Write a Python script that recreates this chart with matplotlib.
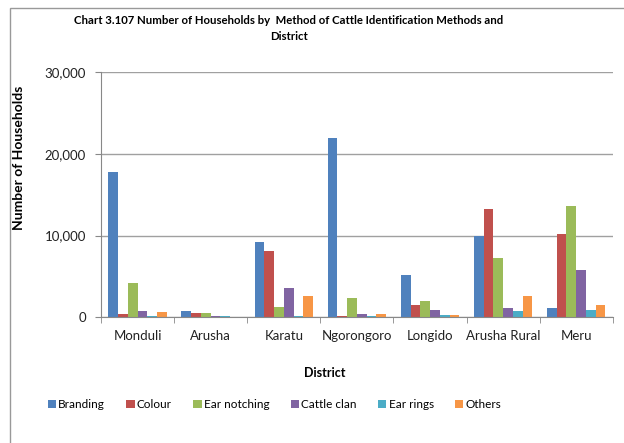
import numpy as np
import matplotlib.pyplot as plt
from matplotlib.patches import Rectangle

districts = ['Monduli', 'Arusha', 'Karatu', 'Ngorongoro', 'Longido', 'Arusha Rural', 'Meru']
methods = ['Branding', 'Colour', 'Ear notching', 'Cattle clan', 'Ear rings', 'Others']

branding = [17800, 750, 9250, 21950, 5200, 10000, 1150]
colour = [420, 550, 8050, 150, 1450, 13300, 10200]
ear_notching = [4200, 550, 1300, 2400, 1950, 7300, 13600]
cattle_clan = [750, 130, 3550, 420, 900, 1150, 5800]
ear_rings = [100, 100, 150, 150, 250, 750, 900]
others = [580, 80, 2550, 420, 250, 2550, 1450]

series = [branding, colour, ear_notching, cattle_clan, ear_rings, others]
colors = ['#4F81BD', '#C0504D', '#9BBB59', '#8064A2', '#4BACC6', '#F79646']

plt.rcParams['font.family'] = ['Lato', 'DejaVu Sans']

fig = plt.figure(figsize=(6.24, 4.43), dpi=100)
ax = fig.add_axes([0.162, 0.284, 0.820, 0.553])

x = np.arange(len(districts))
width = 0.8 / len(series)
for i, (vals, name, c) in enumerate(zip(series, methods, colors)):
    ax.bar(x - 0.4 + width * (i + 0.5), vals, width, color=c, label=name)

ax.set_xlim(-0.5, len(districts) - 0.5)
ax.set_ylim(0, 30000)
ax.set_yticks([0, 10000, 20000, 30000])
ax.set_yticklabels(['0', '10,000', '20,000', '30,000'], fontsize=9.5, color='#222222')
ax.yaxis.grid(True, color='#A0A0A0', linewidth=1)
ax.set_axisbelow(True)

ax.set_xticks(x)
ax.set_xticklabels(districts, fontsize=9.5, color='#222222')
ax.set_xticks(np.arange(-0.5, len(districts)), minor=True)
ax.tick_params(axis='x', which='major', length=0, pad=9)
ax.tick_params(axis='x', which='minor', length=4, color='#888888')
ax.tick_params(axis='y', length=4, color='#888888', pad=7)

for s in ['top', 'right']:
    ax.spines[s].set_visible(False)
for s in ['left', 'bottom']:
    ax.spines[s].set_color('#888888')

ax.set_xlabel('District', fontsize=9, fontweight='bold')
ax.xaxis.set_label_coords(0.4375, -0.205)
ax.set_ylabel('Number of Households', fontsize=10, fontweight='bold')
ax.yaxis.set_label_coords(-0.148, 0.65)

fig.text(0.463, 0.935, 'Chart 3.107 Number of Households by  Method of Cattle Identification Methods and\nDistrict',
         ha='center', va='center', fontsize=8.2, fontweight='bold', linespacing=1.6)

fig.legend(loc='center', bbox_to_anchor=(0.44, 0.086), ncol=6, frameon=False,
           fontsize=8.5, handlelength=0.7, handleheight=0.7, handletextpad=0.2,
           columnspacing=1.8)

fig.patches.append(Rectangle((10 / 624, -0.1), 1.2, 1 - 8 / 443 + 0.1, transform=fig.transFigure,
                             fill=False, edgecolor='#999999', linewidth=1))

fig.savefig('out.png', dpi=100)
